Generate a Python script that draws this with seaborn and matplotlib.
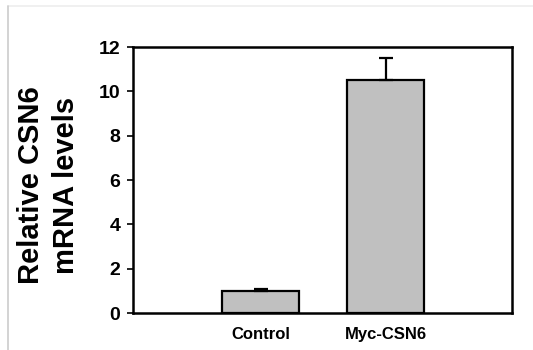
import matplotlib
matplotlib.use("Agg")
import matplotlib.pyplot as plt
import seaborn as sns
import pandas as pd
from matplotlib.lines import Line2D

groups = ["Control", "Myc-CSN6"]
levels = [1.0, 10.5]
errors = [0.1, 1.0]
yticks = [0, 2, 4, 6, 8, 10, 12]

sns.set_style("ticks")
plt.rcParams["font.family"] = ["Liberation Sans", "DejaVu Sans"]
plt.rcParams["font.weight"] = "bold"
plt.rcParams["text.color"] = "black"
plt.rcParams["axes.labelcolor"] = "black"
plt.rcParams["xtick.color"] = "black"
plt.rcParams["ytick.color"] = "black"

df = pd.DataFrame({"group": groups, "level": levels})

fig = plt.figure(figsize=(5.33, 3.5), dpi=100)
ax = fig.add_axes([0.2495, 0.1057, 0.711, 0.76])

sns.barplot(data=df, x="group", y="level", color="#c0c0c0", saturation=1,
            width=0.61, edgecolor="black", linewidth=1.6, errorbar=None, ax=ax)
ax.errorbar(range(len(groups)), levels, yerr=[[0] * len(errors), errors],
            fmt="none", ecolor="black", elinewidth=1.6, capsize=5, capthick=1.6)

ax.set_xlim(-1.02, 2.01)
ax.set_ylim(0, 12)
ax.set_yticks(yticks)
ax.set_yticklabels([str(t) for t in yticks], fontsize=14, fontweight="bold")
ax.set_xticks(range(len(groups)))
ax.set_xticklabels(groups, fontsize=12, fontweight="bold")
ax.tick_params(axis="x", length=0, pad=10)
ax.tick_params(axis="y", length=4, width=1.2, pad=5)
ax.set_xlabel("")
ax.set_ylabel("Relative CSN6\nmRNA levels", fontsize=21, fontweight="bold",
              linespacing=1.3)
ax.yaxis.set_label_coords(-0.14, 0.48)
for s in ax.spines.values():
    s.set_visible(True)
    s.set_linewidth(1.8)
    s.set_color("black")

# faint frame of the original screenshot
fig.add_artist(Line2D([8 / 533, 1], [1 - 6 / 350, 1 - 6 / 350],
                      transform=fig.transFigure, color="#eeeeee", lw=1.2))
fig.add_artist(Line2D([8 / 533, 8 / 533], [0, 1 - 6 / 350],
                      transform=fig.transFigure, color="#cccccc", lw=1.2))

fig.savefig("out.png", dpi=100)
